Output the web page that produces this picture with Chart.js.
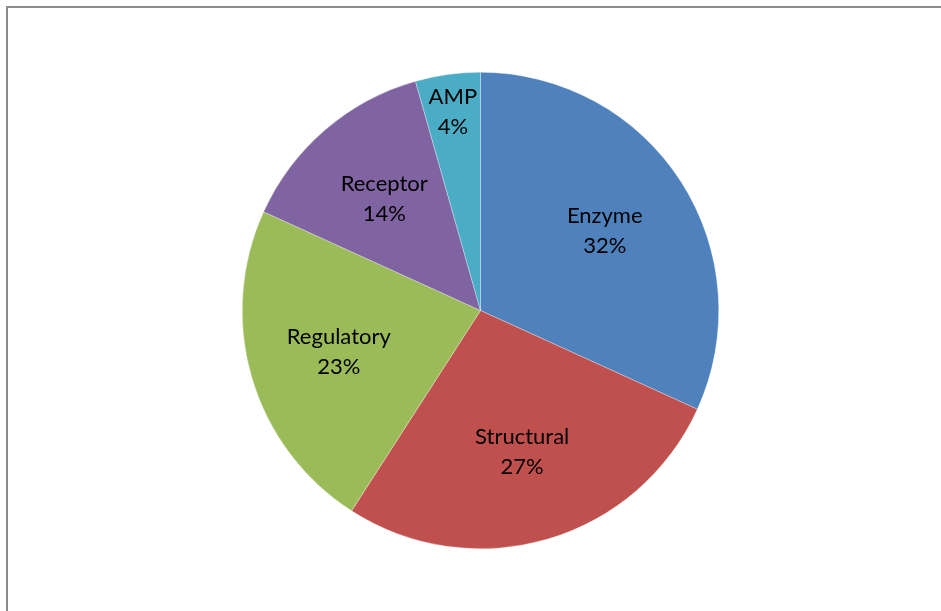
<!DOCTYPE html>
<html>
<head>
<meta charset="utf-8">
<script src="https://cdn.jsdelivr.net/npm/chart.js@4"></script>
<style>
html,body{margin:0;padding:0;background:#fff;}
#wrap{position:relative;width:941px;height:611px;}
</style>
</head>
<body>
<div id="wrap"><canvas id="c" width="941" height="611"></canvas></div>
<script>
const categories = ["Enzyme", "Structural", "Regulatory", "Receptor", "AMP"];
const values = [31.8, 27.3, 22.7, 13.8, 4.4];
const colors = ["#4F81BD", "#C0504D", "#9BBB59", "#8064A2", "#4BACC6"];

const framePlugin = {
  id: 'frame',
  beforeDraw(chart) {
    const ctx = chart.ctx;
    ctx.save();
    ctx.fillStyle = '#fff';
    ctx.fillRect(0, 0, chart.width, chart.height);
    ctx.strokeStyle = '#8c8c8c';
    ctx.lineWidth = 2;
    ctx.strokeRect(7, 7, chart.width + 10, chart.height + 10);
    ctx.restore();
  }
};

const labelPlugin = {
  id: 'sliceLabels',
  afterDatasetsDraw(chart) {
    const ctx = chart.ctx;
    const meta = chart.getDatasetMeta(0);
    const total = values.reduce((a, b) => a + b, 0);
    ctx.save();
    ctx.font = '22px "Lato", "Liberation Sans", sans-serif';
    ctx.fillStyle = '#000';
    ctx.textAlign = 'center';
    ctx.textBaseline = 'middle';
    const lineH = 30;
    meta.data.forEach((arc, i) => {
      const p = arc.getProps(['x', 'y', 'startAngle', 'endAngle', 'outerRadius'], true);
      const mid = (p.startAngle + p.endAngle) / 2;
      const half = (p.endAngle - p.startAngle) / 2;
      const pct = Math.round(values[i] / total * 100) + '%';
      const w = Math.max(ctx.measureText(categories[i]).width, ctx.measureText(pct).width) + 4;
      const h = lineH * 2;
      let d = p.outerRadius * 0.62;
      const maxD = p.outerRadius - 38;
      if (half < Math.PI / 2) {
        while (d < maxD && 2 * (d - h / 2) * Math.sin(half) < w) d += 1;
      }
      const cx = p.x + Math.cos(mid) * d;
      const cy = p.y + Math.sin(mid) * d;
      ctx.fillText(categories[i], cx, cy - lineH / 2);
      ctx.fillText(pct, cx, cy + lineH / 2);
    });
    ctx.restore();
  }
};

new Chart(document.getElementById('c'), {
  type: 'pie',
  data: {
    labels: categories,
    datasets: [{
      data: values,
      backgroundColor: colors,
      borderColor: 'rgba(255,255,255,0.6)',
      borderWidth: 0.5
    }]
  },
  options: {
    responsive: false,
    animation: false,
    layout: { padding: { top: 72, bottom: 62, left: 242, right: 222 } },
    plugins: {
      legend: { display: false },
      tooltip: { enabled: false }
    }
  },
  plugins: [framePlugin, labelPlugin]
});
</script>
</body>
</html>
